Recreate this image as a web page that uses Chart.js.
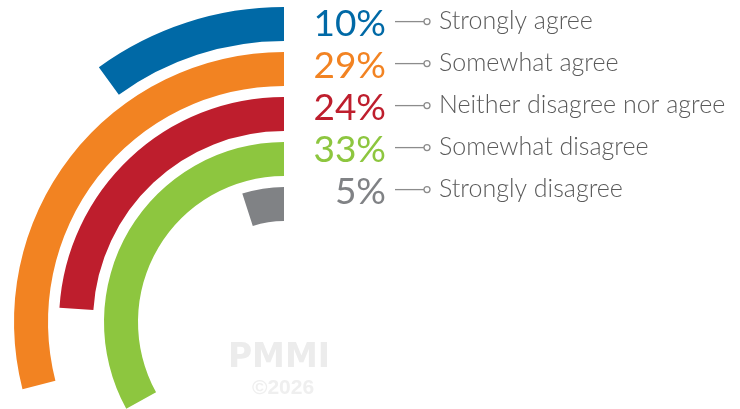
<!DOCTYPE html>
<html>
<head>
<meta charset="utf-8">
<script src="https://cdn.jsdelivr.net/npm/chart.js@4"></script>
<style>
  html, body { margin: 0; padding: 0; background: #fff; overflow: hidden; width: 740px; height: 409px; }
  #chart { position: absolute; left: -31px; top: 7px; }
</style>
</head>
<body>
<canvas id="chart" width="800" height="640"></canvas>
<script>
// answers, outermost ring first
var categories = ['Strongly agree', 'Somewhat agree', 'Neither disagree nor agree', 'Somewhat disagree', 'Strongly disagree'];
var shares = [10, 29, 24, 33, 5];
var colors = ['#0069a6', '#f28322', '#be1e2d', '#8dc63f', '#808285'];

var clear = 'rgba(0,0,0,0)';
var datasets = [];
for (let i = 0; i < shares.length; i++) {
    if (i > 0) {
        // empty ring used as the gap between two bars
        datasets.push({ label: 'gap', data: [100], backgroundColor: [clear], borderWidth: 0, weight: 11 });
    }
    // the empty part comes first so the bar runs back from 12 o'clock
    datasets.push({
        label: categories[i],
        data: [100 - shares[i], shares[i]],
        backgroundColor: [clear, colors[i]],
        borderWidth: 0,
        weight: 34
    });
}

var labelsPlugin = {
    id: 'sideLabels',
    beforeDraw: function (chart) {
        var arc = chart.getDatasetMeta(0).data[1];
        var ctx = chart.ctx;
        ctx.save();
        ctx.textAlign = 'center';
        ctx.textBaseline = 'alphabetic';
        ctx.fillStyle = '#ececec';
        ctx.font = 'bold 33px "DejaVu Sans", sans-serif';
        ctx.fillText('PMMI', arc.x - 5, arc.y + 45);
        ctx.fillStyle = '#efefef';
        ctx.font = 'bold 21px "Liberation Sans", Arial, sans-serif';
        ctx.fillText('\u00a92026', arc.x - 1, arc.y + 72);
        ctx.restore();
    },
    afterDraw: function (chart) {
        var ctx = chart.ctx;
        var first = chart.getDatasetMeta(0).data[1];
        var cx = first.x, top = first.y - first.outerRadius;
        ctx.save();
        for (let i = 0; i < categories.length; i++) {
            var y = top + 14.6 + i * 42;
            ctx.fillStyle = colors[i];
            ctx.font = '37px Lato';
            ctx.textAlign = 'right';
            ctx.textBaseline = 'middle';
            ctx.fillText(shares[i] + '%', cx + 102, y + 2);

            ctx.strokeStyle = '#8c8c8c';
            ctx.lineWidth = 1.3;
            ctx.beginPath();
            ctx.moveTo(cx + 111, y);
            ctx.lineTo(cx + 140, y);
            ctx.stroke();
            ctx.beginPath();
            ctx.arc(cx + 143, y, 3, 0, Math.PI * 2);
            ctx.stroke();

            ctx.fillStyle = '#5a5a5a';
            ctx.font = '300 25px Lato';
            ctx.textAlign = 'left';
            ctx.textBaseline = 'alphabetic';
            ctx.fillText(categories[i], cx + 155, y + 7.5);
        }
        ctx.restore();
    }
};

var myChart = new Chart(document.getElementById('chart'), {
    type: 'doughnut',
    data: { labels: ['rest', 'share'], datasets: datasets },
    options: {
        responsive: false,
        animation: false,
        cutout: 101,
        layout: { padding: { left: 0, top: 0, right: 170, bottom: 10 } },
        plugins: { legend: { display: false }, tooltip: { enabled: false } },
        events: []
    },
    plugins: [labelsPlugin]
});
</script>
</body>
</html>
